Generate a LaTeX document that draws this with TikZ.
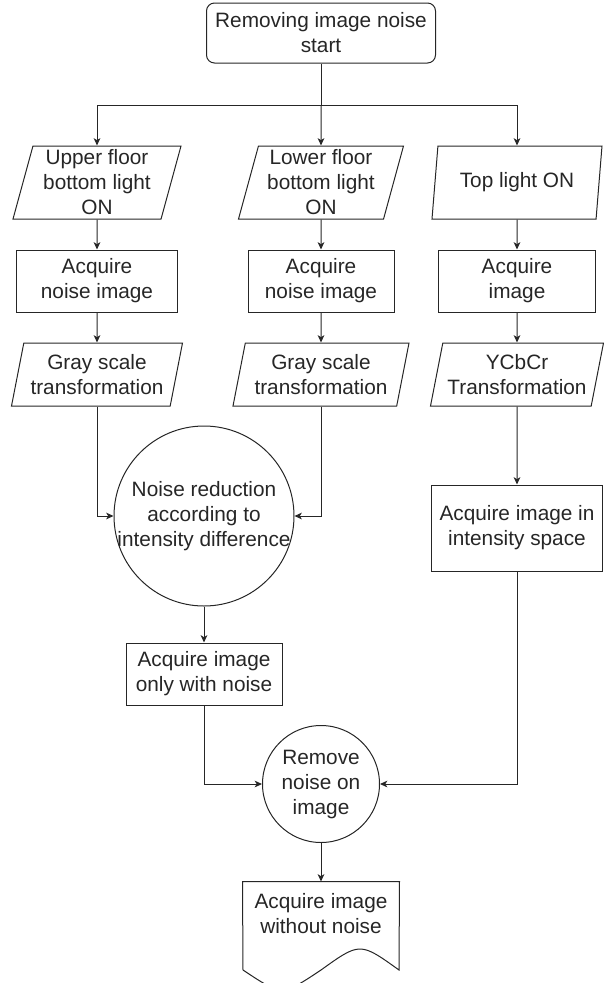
\documentclass[tikz,border=0pt]{standalone}
\usepackage{fontspec}
\setmainfont{Liberation Sans}
\usetikzlibrary{arrows.meta}
\usetikzlibrary{shapes.geometric}

\begin{document}
\begin{tikzpicture}[x=0.75pt, y=-0.75pt, >={Stealth[length=5.5pt, width=5pt, inset=1.5pt]}, color=black!85, line width=0.75pt,
  every node/.style={font=\fontsize{15.6}{18.75}\selectfont, align=center, inner sep=0pt},
  startbox/.style={draw, rectangle, rounded corners=6pt, minimum width=171.75pt, minimum height=45pt},
  procbox/.style={draw, rectangle, minimum height=46.5pt},
  iobox/.style={draw, trapezium, trapezium left angle=73, trapezium right angle=107, trapezium stretches body},
  roundbox/.style={draw, circle}]
\useasboundingbox (0,0) rectangle (604,983);

\node [startbox] (start) at (321,33) {Removing image noise\\start};
\coordinate (fork) at (321,105);

\node [iobox, minimum width=126pt, minimum height=54.75pt] (upper) at (97,182.5) {Upper floor\\bottom light\\ON};
\node [iobox, minimum width=123.75pt, minimum height=54.75pt] (lower) at (321,182.5) {Lower floor\\bottom light\\ON};
\node [iobox, minimum width=127.5pt, minimum height=54.75pt] (toplight) at (517,182.5) {Top light ON};

\node [procbox, minimum width=120.75pt] (noise1) at (97,281) {Acquire\\noise image};
\node [procbox, minimum width=109.5pt] (noise2) at (321,281) {Acquire\\noise image};
\node [procbox, minimum width=117.75pt] (color) at (517,281) {Acquire\\image};

\node [iobox, minimum width=128.25pt, minimum height=47.25pt] (gray1) at (97,374.5) {Gray scale\\transformation};
\node [iobox, minimum width=132pt, minimum height=47.25pt] (gray2) at (321,374.5) {Gray scale\\transformation};
\node [iobox, minimum width=129.75pt, minimum height=47.25pt] (ycbcr) at (517,374.5) {YCbCr\\Transformation};

\node [roundbox, minimum size=135pt, inner sep=-3pt] (reduce) at (204,516) {Noise reduction\\according to\\intensity difference};
\node [procbox, minimum width=128.25pt, minimum height=64.5pt] (intensity) at (517,528) {Acquire image in\\intensity space};
\node [procbox, minimum width=117pt] (onlynoise) at (204,674) {Acquire image\\only with noise};
\node [roundbox, minimum size=87.75pt] (remove) at (321,784) {Remove\\noise on\\image};
\node [minimum width=117pt, minimum height=48pt] (result) at (321,914) {Acquire image\\without noise};
\draw  (result.north west) -- (result.north east) -- (399,970)
  .. controls (360,942) .. (321,970) .. controls (282,996) .. (243,970) -- cycle;

\draw  [-] (start.south) -- (fork);
\draw  [->] (fork) -| (upper);
\draw  [->] (fork) -- (lower);
\draw  [->] (fork) -| (toplight);

\draw  [->] (upper) -- (noise1);
\draw  [->] (lower) -- (noise2);
\draw  [->] (toplight) -- (color);
\draw  [->] (noise1) -- (gray1);
\draw  [->] (noise2) -- (gray2);
\draw  [->] (color) -- (ycbcr);

\draw  [->] (gray1) |- (reduce);
\draw  [->] (gray2) |- (reduce);
\draw  [->] (ycbcr) -- (intensity);
\draw  [->] (reduce) -- (onlynoise);
\draw  [->] (onlynoise) |- (remove);
\draw  [->] (intensity) |- (remove);
\draw  [->] (remove) -- (result);
\end{tikzpicture}
\end{document}
